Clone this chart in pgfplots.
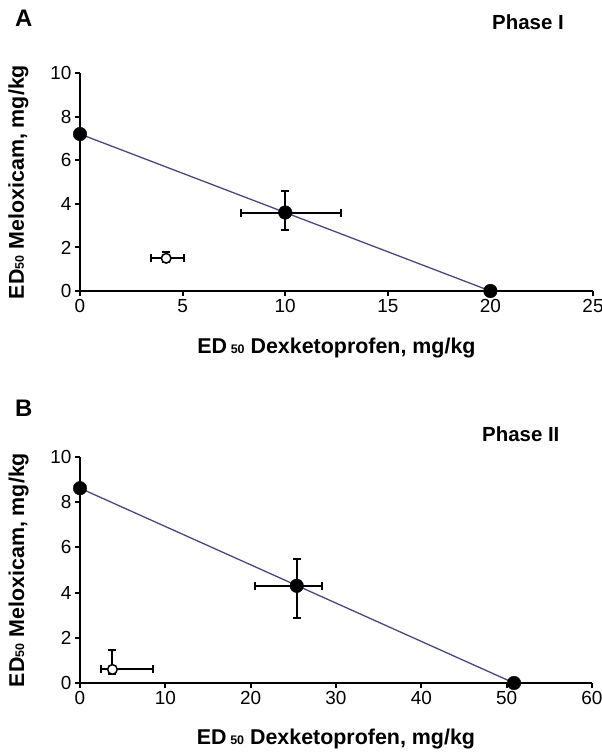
\documentclass[border=0pt]{standalone}
\usepackage{fontspec}
\setmainfont{Liberation Sans}
\usepackage{pgfplots}
\pgfplotsset{compat=1.18}
\definecolor{isoline}{RGB}{72,72,128}
\pgfplotsset{
 myaxis/.style={
  scale only axis, xmin=0, ymin=0, ymax=10,
  axis lines*=left, axis line style={line width=2.2bp, -},
  tick align=outside, major tick length=5bp, tick style={line width=2bp,black},
  ytick={0,2,...,10}, minor tick num=0,
  /pgf/number format/assume math mode=true,
  tick label style={font=\fontsize{19}{19}\selectfont},
  label style={font=\bfseries\fontsize{21.5}{21.5}\selectfont},
  clip=false,
  xlabel={ED\,{\fontsize{12.5}{12.5}\selectfont 50} Dexketoprofen, mg/kg},
  ylabel={ED{\fontsize{12.5}{12.5}\selectfont 50} Meloxicam, mg/kg},
  error bars/error bar style={line width=2bp,black},
  error bars/error mark options={rotate=90,mark size=4bp,line width=2bp,black},
 },
 filledpt/.style={only marks, mark=*, mark size=6.8bp, mark options={fill=black,draw=black}},
 openpt/.style={only marks, mark=*, mark size=4.8bp, mark options={fill=white,draw=black,line width=1.5bp}},
}
\begin{document}
\begin{tikzpicture}
\path[use as bounding box] (0bp,0bp) rectangle (602bp,753bp);
\node[anchor=base west,font=\bfseries\fontsize{24}{24}\selectfont,inner sep=0] at (15bp,726bp) {A};
\node[anchor=base west,font=\bfseries\fontsize{20.5}{20.5}\selectfont,inner sep=0] at (492bp,723bp) {Phase I};
\node[anchor=base west,font=\bfseries\fontsize{24}{24}\selectfont,inner sep=0] at (15bp,336bp) {B};
\node[anchor=base west,font=\bfseries\fontsize{20.5}{20.5}\selectfont,inner sep=0] at (482bp,311bp) {Phase II};

\begin{axis}[myaxis, at={(80bp,462bp)}, anchor=south west,
  width=513bp, height=218bp, xmax=25, xtick={0,5,...,25},
  xlabel style={at={(axis description cs:0.5,-0.289)}, anchor=base},
  ylabel style={at={(axis description cs:-0.12,0.5)}, anchor=center}]
\addplot[isoline, line width=1.3bp, no marks] coordinates {(0,7.2) (20,0)};
\addplot[filledpt, error bars/.cd, x dir=both, x explicit, y dir=both, y explicit]
 coordinates {(10,3.6) += (2.74,1.0) -= (2.17,0.82)};
\addplot[filledpt] coordinates {(0,7.2) (20,0)};
\addplot[openpt, error bars/.cd, x dir=both, x explicit, y dir=both, y explicit]
 coordinates {(4.2,1.5) += (0.86,0.3) -= (0.75,0.15)};
\end{axis}

\begin{axis}[myaxis, at={(80bp,70bp)}, anchor=south west,
  width=512bp, height=226bp, xmax=60, xtick={0,10,...,60},
  xlabel style={at={(axis description cs:0.5,-0.274)}, anchor=base},
  ylabel style={at={(axis description cs:-0.12,0.5)}, anchor=center}]
\addplot[isoline, line width=1.3bp, no marks] coordinates {(0,8.62) (50.86,0)};
\addplot[filledpt, error bars/.cd, x dir=both, x explicit, y dir=both, y explicit]
 coordinates {(25.4,4.3) += (3.0,1.18) -= (4.9,1.41)};
\addplot[filledpt] coordinates {(0,8.62) (50.86,0)};
\addplot[openpt, error bars/.cd, x dir=both, x explicit, y dir=both, y explicit]
 coordinates {(3.8,0.6) += (4.7,0.88) -= (1.35,0.2)};
\end{axis}
\end{tikzpicture}
\end{document}
